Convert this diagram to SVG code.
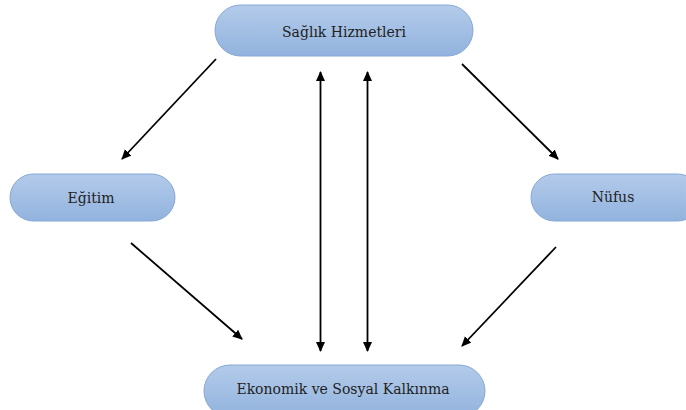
<svg xmlns="http://www.w3.org/2000/svg" width="686" height="410" viewBox="0 0 686 410">
<defs>
<linearGradient id="g" x1="0" y1="0" x2="0" y2="1">
<stop offset="0" stop-color="#b3cbea"/>
<stop offset="1" stop-color="#92b3de"/>
</linearGradient>
<marker id="ah" markerWidth="10" markerHeight="10" refX="9" refY="5" orient="auto-start-reverse" markerUnits="userSpaceOnUse">
<path d="M0,0.5 L10,5 L0,9.5 Z" fill="#000"/>
</marker>
<style>
.n{fill:url(#g);stroke:#86a7d6;stroke-width:1}
.t{font-family:"DejaVu Serif","Liberation Serif",serif;font-size:14px;fill:#222;text-anchor:middle}
.c{stroke:#000;stroke-width:1.8;fill:none;marker-end:url(#ah)}
.d{marker-start:url(#ah)}
</style>
</defs>
<rect width="686" height="410" fill="#fff"/>
<g id="saglik"><rect class="n" x="215" y="5" width="258" height="51" rx="25.5"/><text class="t" x="344" y="37">Sağlık Hizmetleri</text></g>
<g id="egitim"><rect class="n" x="10" y="174" width="165" height="47" rx="23.5"/><text class="t" x="91" y="203">Eğitim</text></g>
<g id="nufus"><rect class="n" x="531" y="174" width="170" height="47" rx="23.5"/><text class="t" x="613" y="202">Nüfus</text></g>
<g id="ekonomik"><rect class="n" x="204" y="365" width="281" height="52" rx="26"/><text class="t" x="343" y="394">Ekonomik ve Sosyal Kalkınma</text></g>
<g id="connectors">
<line class="c" x1="216" y1="59" x2="122" y2="159"/>
<line class="c" x1="462" y1="64" x2="558" y2="159"/>
<line class="c" x1="131" y1="243" x2="242" y2="339"/>
<line class="c" x1="556" y1="247" x2="462" y2="346"/>
<line class="c d" x1="320.5" y1="72" x2="320.5" y2="351"/>
<line class="c d" x1="367.5" y1="72" x2="367.5" y2="351"/>
</g>
</svg>
